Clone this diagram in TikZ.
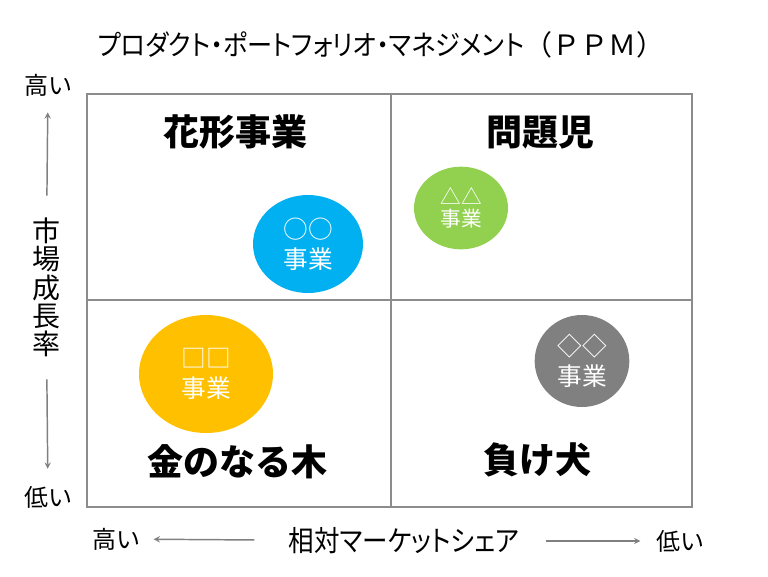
\documentclass[tikz,border=0pt]{standalone}
\usepackage{fontspec}
\setmainfont{Noto Sans CJK JP}
\newfontfamily\paltfont{Noto Sans CJK JP}[RawFeature=+palt]
\newfontfamily\narrowfont{Noto Sans CJK JP}[RawFeature=+palt, FakeStretch=0.89]
\newfontfamily\titlekana{Noto Sans CJK JP}[RawFeature=+palt, FakeStretch=0.9]
\usepackage{tikz}
\usetikzlibrary{shapes,arrows,positioning}

\definecolor{gridgray}{RGB}{140,140,140}
\definecolor{starblue}{RGB}{0,176,240}
\definecolor{qgreen}{RGB}{146,208,80}
\definecolor{cowyellow}{RGB}{255,192,0}
\definecolor{doggray}{RGB}{128,128,128}

\begin{document}
\begin{tikzpicture}[x=0.75pt, y=-0.75pt,
    quadlabel/.style={font=\fontsize{27}{30}\selectfont\bfseries, inner sep=0pt},
    unit/.style={ellipse, inner sep=0pt, text=white, align=center,
                 font=\fontsize{18.5}{22.5}\selectfont},
    axislabel/.style={font=\fontsize{21}{21.2}\selectfont, inner sep=0pt, align=center},
    endlabel/.style={font=\fontsize{18}{20}\selectfont\paltfont, inner sep=0pt},
    arrow/.style={->, >=stealth, draw=gray, line width=1.1pt},
    gridline/.style={draw=gridgray, line width=2pt}
]
    \useasboundingbox (0,0) rectangle (768,576);

    % Title
    \node[font=\fontsize{21}{23}\selectfont, inner sep=0pt] (title) at (381,45)
        {{\titlekana プロダクト・ポートフォリオ・マネジメント}（ＰＰＭ）};

    % Matrix
    \draw[gridline] (87,94) rectangle (692,507);
    \draw[gridline] (391,94) -- (391,507);
    \draw[gridline] (87,300) -- (692,300);

    % Quadrant names
    \node[quadlabel] (star) at (235,132) {花形事業};
    \node[quadlabel] (problem) at (540,132) {問題児};
    \node[quadlabel] (cow) at (237,462) {金のなる木};
    \node[quadlabel] (dog) at (537,460) {負け犬};

    % Businesses
    \node[unit, fill=starblue, minimum width=82.5pt, minimum height=73.5pt]
        (unitA) at (308,244) {○○\\事業};
    \node[unit, fill=qgreen, minimum width=70.5pt, minimum height=62pt,
          font=\fontsize{15.5}{16.5}\selectfont]
        (unitB) at (461,208) {△△\\事業};
    \node[unit, fill=cowyellow, minimum width=100.5pt, minimum height=88.5pt]
        (unitC) at (206,374) {□□\\事業};
    \node[unit, fill=doggray, minimum width=71pt, minimum height=69pt]
        (unitD) at (582,361) {◇◇\\事業};

    % Vertical axis
    \node[endlabel] (yhigh) at (48,85) {高い};
    \node[axislabel] (ylabel) at (46,287.5) {市\\場\\成\\長\\率};
    \node[endlabel] (ylow) at (48,497) {低い};
    \draw[arrow, shorten <=16.5pt, shorten >=12pt] (ylabel) -- (yhigh);
    \draw[arrow, shorten <=16.5pt, shorten >=12.75pt] (ylabel) -- (ylow);

    % Horizontal axis
    \node[endlabel] (xhigh) at (116,539) {高い};
    \node[axislabel, font=\fontsize{21.5}{22}\selectfont\narrowfont] (xlabel) at (404,541)
        {相対マーケットシェア};
    \node[endlabel] (xlow) at (680,541) {低い};
    \draw[arrow, shorten <=25.5pt, shorten >=10.5pt] (xlabel) -- (xhigh);
    \draw[arrow, shorten <=19.5pt, shorten >=12pt] (xlabel) -- (xlow);
\end{tikzpicture}
\end{document}
